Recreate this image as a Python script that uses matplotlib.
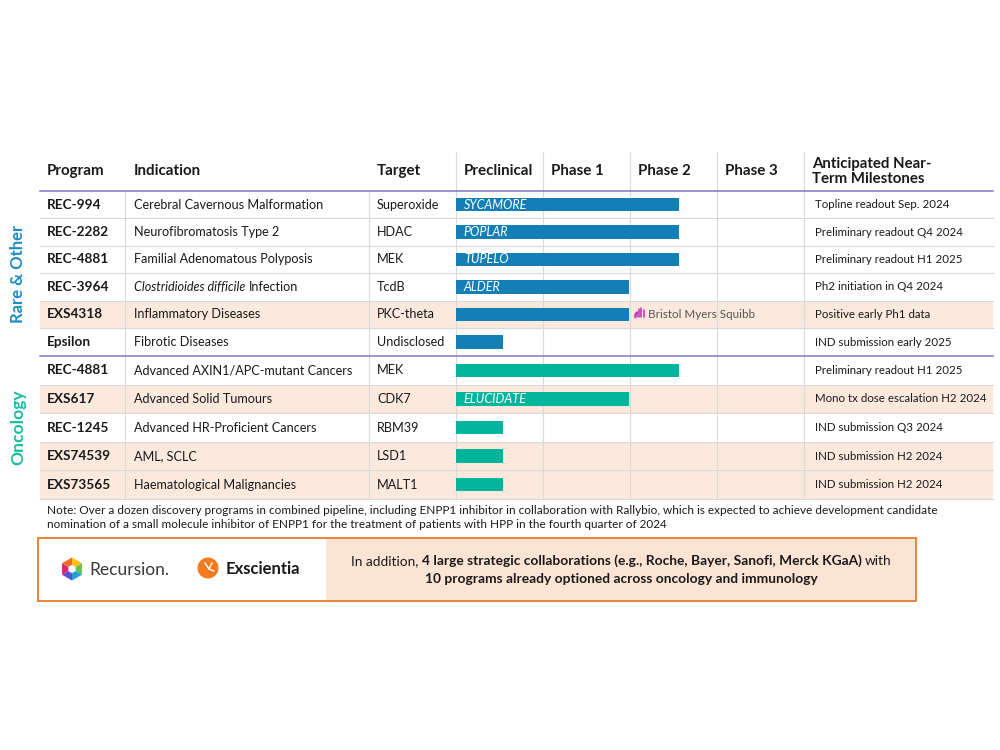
import matplotlib
matplotlib.use("Agg")
import matplotlib.pyplot as plt
from matplotlib.patches import Rectangle, Polygon, Circle
import numpy as np

# ---------------- data ----------------
programs = ["REC-994", "REC-2282", "REC-4881", "REC-3964", "EXS4318", "Epsilon",
            "REC-4881", "EXS617", "REC-1245", "EXS74539", "EXS73565"]
indications = ["Cerebral Cavernous Malformation", "Neurofibromatosis Type 2",
               "Familial Adenomatous Polyposis", "Clostridioides difficile Infection",
               "Inflammatory Diseases", "Fibrotic Diseases",
               "Advanced AXIN1/APC-mutant Cancers", "Advanced Solid Tumours",
               "Advanced HR-Proficient Cancers", "AML, SCLC", "Haematological Malignancies"]
targets = ["Superoxide", "HDAC", "MEK", "TcdB", "PKC-theta", "Undisclosed",
           "MEK", "CDK7", "RBM39", "LSD1", "MALT1"]
# progress measured in phase units (Preclinical = 0..1, Phase 1 = 1..2, ...)
progress = [2.56, 2.56, 2.56, 1.99, 1.99, 0.54, 2.56, 1.99, 0.54, 0.54, 0.54]
trial_names = ["SYCAMORE", "POPLAR", "TUPELO", "ALDER", "", "", "", "ELUCIDATE", "", "", ""]
milestones = ["Topline readout Sep. 2024", "Preliminary readout Q4 2024",
              "Preliminary readout H1 2025", "Ph2 initiation in Q4 2024",
              "Positive early Ph1 data", "IND submission early 2025",
              "Preliminary readout H1 2025", "Mono tx dose escalation H2 2024",
              "IND submission Q3 2024", "IND submission H2 2024", "IND submission H2 2024"]
areas = ["Rare & Other"] * 6 + ["Oncology"] * 5
highlighted = [False, False, False, False, True, False, False, True, False, True, True]
phases = ["Preclinical", "Phase 1", "Phase 2", "Phase 3"]
headers = ["Program", "Indication", "Target"]
milestone_header = "Anticipated Near-\nTerm Milestones"
note_lines = ["Note: Over a dozen discovery programs in combined pipeline, including ENPP1 inhibitor in collaboration with Rallybio, which is expected to achieve development candidate",
              "nomination of a small molecule inhibitor of ENPP1 for the treatment of patients with HPP in the fourth quarter of 2024"]
box_line1 = [("In addition,", "normal"),
             ("4 large strategic collaborations (e.g., Roche, Bayer, Sanofi, Merck KGaA)", "bold"),
             ("with", "normal")]
box_line2 = [("10 programs already optioned across oncology and immunology", "bold")]

# ---------------- style / layout ----------------
FONT = "Lato"
plt.rcParams["font.family"] = [FONT, "DejaVu Sans"]
area_colors = {"Rare & Other": "#137FB5", "Oncology": "#00B59B"}
label_colors = {"Rare & Other": "#1B8CC3", "Oncology": "#19BDA2"}
label_sizes = {"Rare & Other": 12.0, "Oncology": 12.6}
SALMON = "#FCE9DE"
PEACH = "#FCE4D5"
ORANGE = "#EE8236"
GRID = "#D9D9D9"
PURPLE = "#8177C5"
TXT = "#1a1a1a"

row_edges = [191, 218.3, 245.7, 273, 300.5, 328, 356, 384.6, 413.2, 441.8, 470.4, 499]
table_left, table_right = 40, 993
col_lines = [125, 369]
phase_left, phase_w = 456, 87
header_top = 152
x_prog, x_ind, x_tgt, x_ms = 47, 134, 377, 815

fig = plt.figure(figsize=(10, 7.5), dpi=100)
ax = fig.add_axes([0, 0, 1, 1])
ax.set_xlim(0, 1000)
ax.set_ylim(750, 0)
ax.axis("off")

n = len(programs)
centers = [(row_edges[i] + row_edges[i + 1]) / 2 for i in range(n)]

# highlighted row backgrounds
for i in range(n):
    if highlighted[i]:
        ax.add_patch(Rectangle((table_left, row_edges[i]), table_right - table_left,
                               row_edges[i + 1] - row_edges[i], color=SALMON, lw=0, zorder=0))

# horizontal lines
for i, y in enumerate(row_edges):
    if i == 0 or y == 356:
        ax.plot([table_left, table_right], [y, y], color=PURPLE, lw=1.1, zorder=2)
    else:
        ax.plot([table_left, table_right], [y, y], color=GRID, lw=0.8, zorder=1)
# vertical lines
for x in col_lines:
    ax.plot([x, x], [row_edges[0], row_edges[-1]], color=GRID, lw=0.8, zorder=1)
for k in range(len(phases) + 1):
    x = phase_left + k * phase_w
    ax.plot([x, x], [header_top, row_edges[-1]], color=GRID, lw=0.8, zorder=1)

# headers
hy = 171
fs_head = 10.9
for x, h in zip([x_prog, x_ind, x_tgt], headers):
    ax.text(x, hy, h, fontsize=fs_head, fontweight="bold", va="center", color=TXT)
for k, p in enumerate(phases):
    ax.text(phase_left + k * phase_w + 8, hy, p, fontsize=fs_head, fontweight="bold",
            va="center", color=TXT)
ax.text(812, hy + 0.5, milestone_header, fontsize=10.8, fontweight="bold", va="center",
        color=TXT, linespacing=1.08)

fig.canvas.draw()
renderer = fig.canvas.get_renderer()


def width_of(t):
    return t.get_window_extent(renderer).width


def space_width(fs, weight, style="normal"):
    a = ax.text(0, -100, "x x", fontsize=fs, fontweight=weight, fontstyle=style)
    b = ax.text(0, -100, "xx", fontsize=fs, fontweight=weight, fontstyle=style)
    w = width_of(a) - width_of(b)
    a.remove(); b.remove()
    return w


def rich(x, y, parts, fs, ha="left", color=TXT):
    """parts: list of (text, weight, style). Places pieces side by side."""
    objs = []
    for s, w, st in parts:
        objs.append(ax.text(x, y, s, fontsize=fs, fontweight=w, fontstyle=st,
                            va="center", ha="left", color=color, zorder=5))
    widths = [width_of(o) for o in objs]
    gaps = [space_width(fs, parts[i][1]) for i in range(len(parts) - 1)]
    total = sum(widths) + sum(gaps)
    start = x - total / 2 if ha == "center" else x
    cur = start
    for i, o in enumerate(objs):
        o.set_x(cur)
        cur += widths[i] + (gaps[i] if i < len(gaps) else 0)


# body rows
fs_body = 9.1
fs_prog = 9.8
fs_ms = 8.25
for i in range(n):
    y = centers[i]
    ax.text(x_prog, y, programs[i], fontsize=fs_prog, fontweight="bold", va="center", color=TXT)
    if indications[i].startswith("Clostridioides difficile"):
        rich(x_ind, y, [("Clostridioides difficile", "normal", "italic"),
                        ("Infection", "normal", "normal")], fs_body)
    else:
        ax.text(x_ind, y, indications[i], fontsize=fs_body, va="center", color=TXT)
    ax.text(x_tgt, y, targets[i], fontsize=fs_body, va="center", color=TXT)
    ax.text(x_ms, y, milestones[i], fontsize=fs_ms, va="center", color=TXT)

# area labels
for area in ["Rare & Other", "Oncology"]:
    idx = [i for i in range(n) if areas[i] == area]
    yc = (row_edges[idx[0]] + row_edges[idx[-1] + 1]) / 2
    ax.text(18, yc, area, rotation=90, fontsize=label_sizes[area], fontweight="bold",
            ha="center", va="center", color=label_colors[area])

# bars in phase-unit axes
bx = fig.add_axes([phase_left / 1000, 0, len(phases) * phase_w / 1000, 1])
bx.set_xlim(0, len(phases))
bx.set_ylim(750, 0)
bx.axis("off")
bx.patch.set_alpha(0)
bx.barh(centers, progress, height=13.5, left=0,
        color=[area_colors[a] for a in areas], zorder=3)
for i in range(n):
    if trial_names[i]:
        bx.text(0.09, centers[i], trial_names[i], fontsize=9, fontstyle="italic",
                color="white", va="center", zorder=4)

# Bristol Myers Squibb partner mark
bi = programs.index("EXS4318")
yb = centers[bi]
bms_x = 637
for dx, h in zip([0, 2.2, 4.4, 6.6], [5, 8, 9, 7]):
    ax.plot([bms_x + dx, bms_x + dx], [yb + 3, yb + 3 - h], color="#BE2BBB", lw=1.1,
            solid_capstyle="round", zorder=5)
tt = np.linspace(np.pi * 0.6, np.pi * 1.1, 20)
ax.plot(bms_x + 1 + 3 * np.cos(tt), yb + 2 - 4 * np.sin(tt), color="#BE2BBB", lw=1.1, zorder=5)
ax.text(648, yb, "Bristol Myers Squibb", fontsize=8.4, color="#555555", va="center",
        zorder=5)

# note
ax.text(47, 510, note_lines[0], fontsize=8.43, va="center", color=TXT)
ax.text(47, 524, note_lines[1], fontsize=8.43, va="center", color=TXT)

# bottom box
bx0, bx1, by0, by1 = 38, 916, 537.5, 600.5
split = 326
ax.add_patch(Rectangle((split, by0), bx1 - split, by1 - by0, color=PEACH, lw=0, zorder=1))
ax.add_patch(Rectangle((bx0, by0), bx1 - bx0, by1 - by0, fill=False, edgecolor=ORANGE,
                       lw=1.4, zorder=2))
rich(621, 561, [(s, w, "normal") for s, w in box_line1], 9.95, ha="center")
rich(621, 579, [(s, w, "normal") for s, w in box_line2], 9.95, ha="center")

# Recursion logo
hx, hy0, r = 72, 569, 11.5
hex_cols = ["#FFC20E", "#6CC24A", "#21A0DB", "#5A4FCF", "#D9256F", "#F26B2A"]
for k in range(6):
    a0 = np.deg2rad(90 - 60 * k)
    a1 = np.deg2rad(90 - 60 * (k + 1))
    pts = [(hx, hy0), (hx + r * np.cos(a0), hy0 - r * np.sin(a0)),
           (hx + r * np.cos(a1), hy0 - r * np.sin(a1))]
    ax.add_patch(Polygon(pts, closed=True, color=hex_cols[k], lw=0, zorder=3))
ri = 4.2
ax.add_patch(Polygon([(hx + ri * np.cos(np.deg2rad(90 - 60 * k)),
                       hy0 - ri * np.sin(np.deg2rad(90 - 60 * k))) for k in range(6)],
                     closed=True, color="white", lw=0, zorder=4))
ax.text(89, 570, "Recursion.", fontsize=12.5, color="#3a3a3a", va="center", zorder=4)

# Exscientia logo
cx, cy = 208, 568
ax.add_patch(Circle((cx, cy), 10.5, color="#F47B20", lw=0, zorder=3))
ax.plot([cx - 3, cx + 1, cx + 6], [cy - 5, cy + 1, cy + 3], color="white", lw=1, zorder=4)
ax.plot([cx + 1, cx + 4], [cy + 1, cy - 5], color="white", lw=1, zorder=4)
ax.text(226, 569, "Exscientia", fontsize=12, fontweight="bold", color="#1a1a1a",
        va="center", zorder=4)

fig.savefig("out.png", dpi=100, facecolor="white")
